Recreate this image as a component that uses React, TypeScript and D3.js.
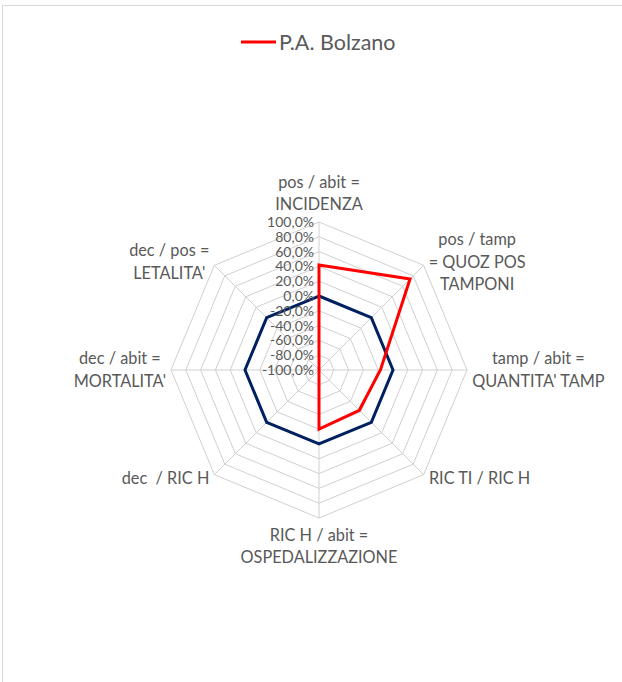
import React from "react";
import * as d3 from "d3";

const categories: string[][] = [
  ["pos / abit =", "INCIDENZA"],
  ["pos / tamp", "= QUOZ POS", "TAMPONI"],
  ["tamp / abit =", "QUANTITA' TAMP"],
  ["RIC TI / RIC H"],
  ["RIC H / abit =", "OSPEDALIZZAZIONE"],
  ["dec  / RIC H"],
  ["dec / abit =", "MORTALITA'"],
  ["dec / pos =", "LETALITA'"],
];

const bolzanoValues = [0.42, 0.74, -0.17, -0.23, -0.2, -1, -1, -1];
const baselineValues = [0, 0, 0, 0, 0, 0, 0, 0];
const tickValues = [1, 0.8, 0.6, 0.4, 0.2, 0, -0.2, -0.4, -0.6, -0.8, -1];
const legendLabel = "P.A. Bolzano";

const W = 622;
const H = 682;
const cx = 319;
const cy = 370;
const R = 148;
const FONT = "Lato, 'Open Sans', sans-serif";
const TEXT = "#595959";
const GRID = "#D0D0D0";

const fmt = (v: number) =>
  (v * 100).toFixed(1).replace(".", ",") + "%";

let measureCtx: CanvasRenderingContext2D | null = null;
function measure(text: string, size: number) {
  if (!measureCtx) {
    const c = document.createElement("canvas");
    measureCtx = c.getContext("2d");
  }
  if (!measureCtx) return text.length * size * 0.5;
  measureCtx.font = `${size}px Lato`;
  return measureCtx.measureText(text).width;
}

export default function App() {
  const n = categories.length;
  const rScale = d3.scaleLinear().domain([-1, 1]).range([0, R]);
  const angle = (i: number) => (i * 2 * Math.PI) / n;
  const pt = (i: number, v: number): [number, number] => {
    const r = rScale(v);
    const a = angle(i);
    return [cx + r * Math.sin(a), cy - r * Math.cos(a)];
  };

  const lineGen = d3
    .line<number>()
    .x((v, i) => pt(i, v)[0])
    .y((v, i) => pt(i, v)[1])
    .curve(d3.curveLinearClosed);

  const labelSize = 16.3;
  const lh = 22.5;

  return (
    <svg
      width={W}
      height={H}
      style={{ position: "absolute", left: 0, top: 0, background: "#fff" }}
      fontFamily={FONT}
    >
      <rect x={2.5} y={5.5} width={W + 10} height={H + 10} fill="#fff" stroke="#D9D9D9" strokeWidth={1} />
      {/* rings */}
      {tickValues.map((t) => (
        <path
          key={"ring" + t}
          d={lineGen(categories.map(() => t)) || ""}
          fill="none"
          stroke={GRID}
          strokeWidth={1}
        />
      ))}
      {/* spokes */}
      {categories.map((_, i) => {
        const [x, y] = pt(i, 1);
        return <line key={"sp" + i} x1={cx} y1={cy} x2={x} y2={y} stroke={GRID} strokeWidth={1} />;
      })}
      {/* series */}
      <path d={lineGen(baselineValues) || ""} fill="none" stroke="#002060" strokeWidth={3} strokeLinejoin="miter" />
      <path d={lineGen(bolzanoValues) || ""} fill="none" stroke="#FF0000" strokeWidth={3} strokeLinejoin="miter" />
      {/* tick labels */}
      {tickValues.map((t) => (
        <text
          key={"tk" + t}
          x={cx - 5}
          y={cy - rScale(t)}
          dy="0.35em"
          textAnchor="end"
          fontSize={14}
          fill={TEXT}
        >
          {fmt(t)}
        </text>
      ))}
      {/* axis labels */}
      {categories.map((lines, i) => {
        const a = angle(i);
        const [vx, vy] = pt(i, 1);
        const s = Math.sin(a);
        const c = Math.cos(a);
        const blockW = Math.max(...lines.map((l) => measure(l, labelSize)));
        const blockH = lines.length * lh;
        let bx: number;
        let by: number;
        if (Math.abs(s) < 0.1) {
          bx = vx;
          by = vy - c * (6 + blockH / 2);
        } else {
          bx = vx + Math.sign(s) * (5 + blockW / 2);
          by = vy - c * 5;
        }
        return (
          <text
            key={"lab" + i}
            textAnchor="middle"
            fontSize={labelSize}
            fill={TEXT}
            style={{ whiteSpace: "pre" }}
          >
            {lines.map((l, j) => (
              <tspan key={j} x={bx} y={by - blockH / 2 + lh * (j + 0.5)} dy="0.35em">
                {l}
              </tspan>
            ))}
          </text>
        );
      })}
      {/* legend */}
      <line x1={241} y1={42} x2={276} y2={42} stroke="#FF0000" strokeWidth={3} />
      <text x={279} y={42} dy="0.36em" fontSize={21.5} fill={TEXT}>
        {legendLabel}
      </text>
    </svg>
  );
}
